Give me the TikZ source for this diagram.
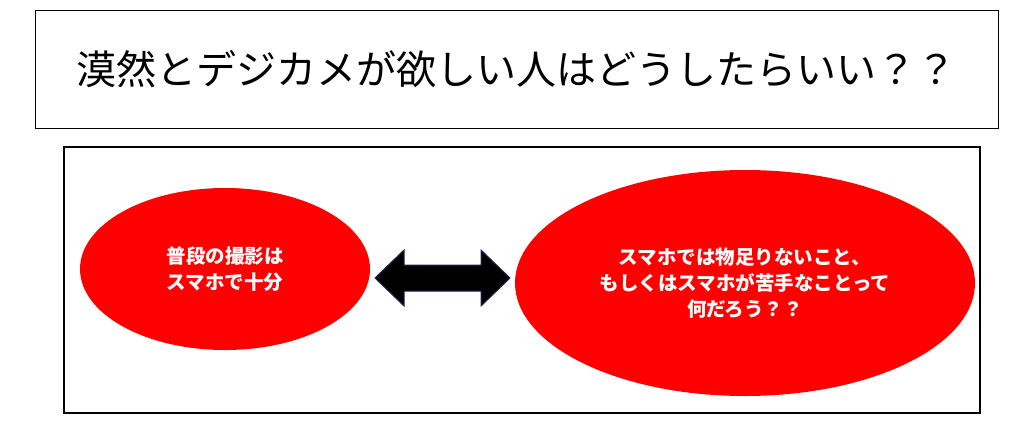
\documentclass[tikz,border=0pt]{standalone}
\usepackage{fontspec}
\newfontfamily\cjk{Noto Sans CJK JP}
\usetikzlibrary{shapes.geometric}
\begin{document}
\begin{tikzpicture}[x=1pt,y=-1pt,
  ell/.style={ellipse,fill=red,draw=none,text=white,align=center,font=\cjk\bfseries\fontsize{19.5}{26}\selectfont},
  box/.style={draw=black}]
\useasboundingbox (0,0) rectangle (1024,421);
\node[box,line width=0.8pt,minimum width=963pt,minimum height=118pt,inner sep=0pt] (title) at (516.5,69) {};
\node[font=\cjk\fontsize{40}{46}\selectfont] (tt) at (title.center) {漠然とデジカメが欲しい人はどうしたらいい？？};
\node[box,line width=2.5pt,minimum width=916pt,minimum height=266pt,inner sep=0pt] (frame) at (522,280) {};
\node[ell,minimum width=290pt,minimum height=162pt] (l) at (225,269) {普段の撮影は\\スマホで十分};
\node[ell,minimum width=460pt,minimum height=226pt] (r) at (745,283) {スマホでは物足りないこと、\\もしくはスマホが苦手なことって\\何だろう？？};
\coordinate (a) at (442,278);
\draw[fill=black,draw={rgb,255:red,30;green,40;blue,80},line width=1pt]
  (375,278) -- (404,250) -- (404,265) -- (481,265) -- (481,250) -- (510,278)
  -- (481,306) -- (481,291) -- (404,291) -- (404,306) -- cycle;
\end{tikzpicture}
\end{document}
